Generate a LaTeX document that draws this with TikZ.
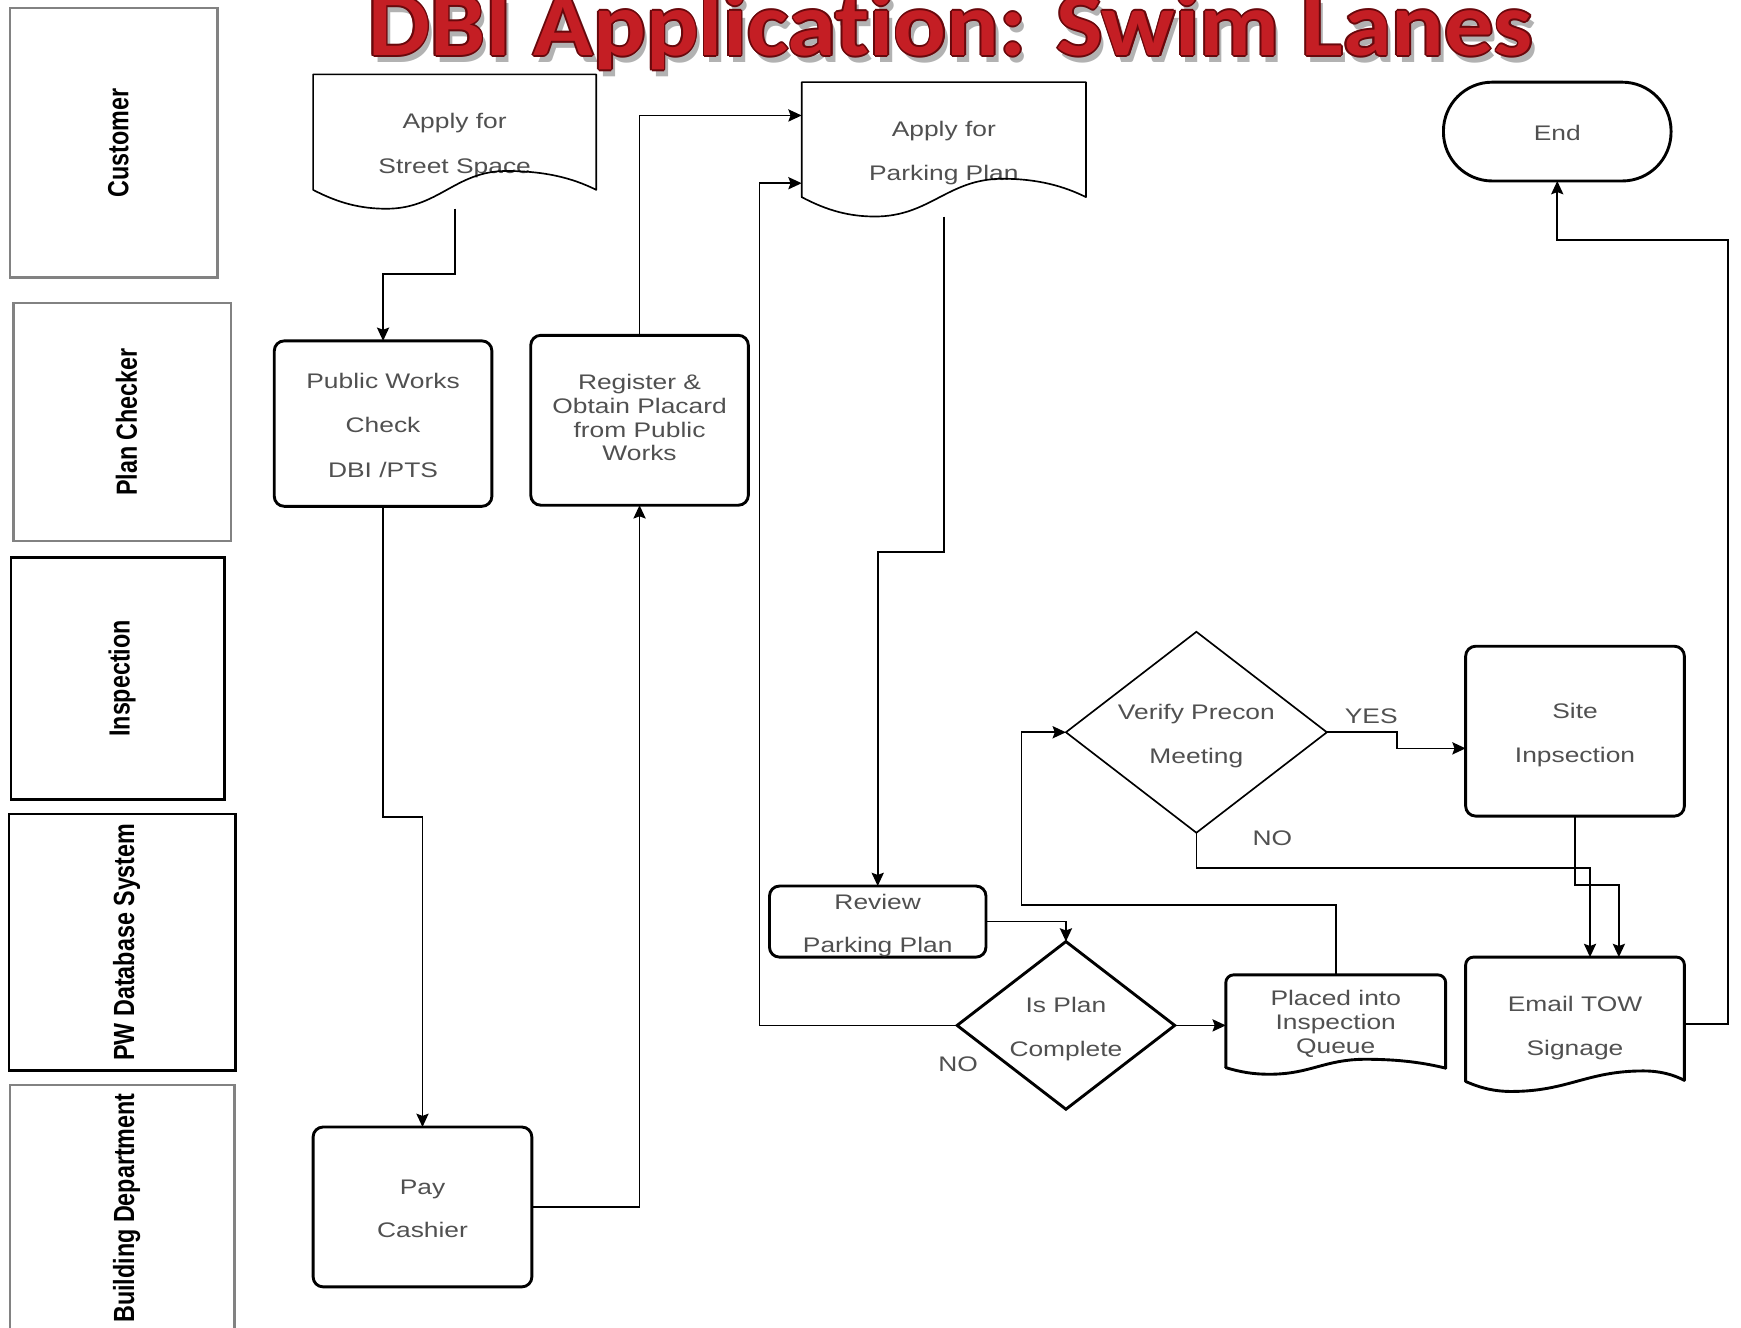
\documentclass[tikz,border=0pt]{standalone}
\usepackage{fontspec}
\usepackage{graphicx}
\setmainfont{Liberation Sans}
\newfontfamily\titlefont{Carlito}[Ligatures={NoCommon,NoRequired,NoContextual}]
\usetikzlibrary{arrows.meta,shapes.geometric,calc}
\definecolor{txt}{RGB}{80,80,80}
\definecolor{lanegray}{RGB}{130,130,130}
\definecolor{tred}{RGB}{196,30,36}
\definecolor{tdark}{RGB}{105,8,12}
\newcommand\ntext[2][40]{\makebox[0pt]{\raisebox{-4.75pt}{\scalebox{1.25}[1]{\fontsize{19}{#1}\selectfont\begin{tabular}{@{}c@{}}#2\end{tabular}}}}}
\newcommand\lanetext[1]{\hspace*{8pt}\rotatebox{90}{\scalebox{1}[1.25]{\fontsize{21}{25}\selectfont\bfseries #1}}}
\newcommand\ttl{\scalebox{1.08}[1]{\fontsize{82}{82}\selectfont\titlefont\bfseries DBI Application: Swim Lanes}}
\begin{document}
\begin{tikzpicture}[x=1pt,y=-1pt,
  nbase/.style={inner sep=0pt, outer sep=0pt, text height=0pt, text depth=0pt, text=txt},
  proc/.style={nbase, rectangle, draw, line width=2.6pt, rounded corners=9pt},
  docbox/.style={nbase, rectangle},
  thinline/.style={line width=1.5pt, line join=round},
  thickline/.style={line width=2.6pt, line join=round, line cap=round},
  lanebox/.style={rectangle, inner sep=0pt, line width=2.2pt},
  conn/.style={line width=1.5pt, -{Stealth[length=12pt,width=11pt,inset=2pt]}},
]
\useasboundingbox (0,0) rectangle (1568,1196);

% title
\node[anchor=base, text=black, opacity=0.3] (tshadow) at (860,56) {\ttl};
\foreach \dx/\dy [count=\i] in {-1.6/0, 1.6/0, 0/-1.6, 0/1.6, -1.1/-1.1, 1.1/1.1, -1.1/1.1, 1.1/-1.1}
  \node[anchor=base, text=tdark] (tout\i) at ({856+\dx},{50+\dy}) {\ttl};
\node[anchor=base, text=tred] (title) at (856,50) {\ttl};

% lanes
\node[lanebox, draw=lanegray, minimum width=187pt, minimum height=243pt] (lcust) at (102.5,128.5) {\lanetext{Customer}};
\node[lanebox, draw=lanegray, minimum width=196pt, minimum height=214pt] (lplan) at (110,380) {\lanetext{Plan Checker}};
\node[lanebox, draw=black, minimum width=192pt, minimum height=218pt] (linsp) at (106,611) {\lanetext{Inspection}};
\node[lanebox, draw=black, minimum width=204pt, minimum height=231pt] (lpw) at (110,848.5) {\lanetext{PW Database System}};
\node[lanebox, draw=lanegray, minimum width=202pt, minimum height=222pt] (lbld) at (110,1088) {\lanetext{Building Department}};

% flow nodes
\node[docbox, minimum width=255pt, minimum height=121pt] (street) at (409.5,127.5) {\ntext{Apply for\\Street Space}};
\draw[thinline] (282,171) -- (282,67) -- (537,67) -- (537,171) .. controls (515,160) and (490,154) .. (456,154) .. controls (410,154) and (395,188) .. (348,188) .. controls (325,188) and (305,183) .. (282,171) -- cycle;

\node[docbox, minimum width=256pt, minimum height=121pt] (park) at (850,134.5) {\ntext{Apply for\\Parking Plan}};
\draw[thinline] (722,177.5) -- (722,74) -- (978,74) -- (978,177.5) .. controls (958,167.6) and (934.5,161) .. (903,161) .. controls (853.5,161) and (837.5,195) .. (788,195) .. controls (765,195) and (745,189.7) .. (722,177.5) -- cycle;

\node[nbase, draw, line width=2.6pt, rounded corners=44pt, minimum width=205pt, minimum height=89pt] (end) at (1402.5,118.5) {\ntext{End}};

\node[proc, minimum width=196pt, minimum height=149pt] (pw) at (345,381.5) {\ntext{Public Works\\Check\\DBI /PTS}};
\node[proc, minimum width=196pt, minimum height=153pt] (reg) at (576,378.5) {\ntext[21.3]{Register \&\\Obtain Placard\\from Public\\Works}};
\node[proc, minimum width=195pt, minimum height=64pt] (review) at (790.5,830) {\ntext[39]{Review\\Parking Plan}};
\node[nbase, diamond, draw=black, line width=1.5pt, minimum width=235pt, minimum height=181pt] (verify) at (1077.5,659.5) {\ntext[39]{Verify Precon\\Meeting}};
\node[proc, minimum width=197pt, minimum height=153pt] (site) at (1418.5,658.5) {\ntext{Site\\Inpsection}};
\node[nbase, diamond, draw=black, line width=2.6pt, minimum width=196pt, minimum height=151pt] (isplan) at (960,923.5) {\ntext[39]{Is Plan\\Complete}};

\node[docbox, minimum width=198pt, minimum height=89.5pt] (placed) at (1203,922.75) {\ntext[21.5]{Placed into\\Inspection\\Queue}};
\draw[thickline, rounded corners=7pt] (1104,961.5) -- (1104,878) -- (1302,878) -- (1302,962);
\draw[thickline] (1302,962) .. controls (1282.6,957.2) and (1260,954) .. (1230,954) .. controls (1192.6,954) and (1180.4,967.5) .. (1143,967.5) .. controls (1129.4,967.5) and (1117.6,965.7) .. (1104,961.5);

\node[docbox, minimum width=197pt, minimum height=121pt] (email) at (1418.5,922.5) {\ntext[39]{Email TOW\\Signage}};
\draw[thickline, rounded corners=7pt] (1320,974) -- (1320,862) -- (1517,862) -- (1517,973);
\draw[thickline] (1517,973) .. controls (1507,967.9) and (1495.5,964.5) .. (1480,964.5) .. controls (1429,964.5) and (1412,983) .. (1361,983) .. controls (1346.6,983) and (1334.4,980.3) .. (1320,974);

\node[proc, minimum width=197pt, minimum height=144pt] (pay) at (380.5,1087) {\ntext[39]{Pay\\Cashier}};

% labels
\node[nbase] (no1) at (863,957) {\ntext{NO}};
\node[nbase] (yes) at (1235,643) {\ntext{YES}};
\node[nbase] (no2) at (1146,753) {\ntext{NO}};

% connectors
\draw[conn] (street.south) -- ++(0,59) -| (pw.north);
\draw[conn] (pw.south) -- ++(0,280) -| (pay.north);
\draw[conn] (pay.east) -| (reg.south);
\draw[conn] (reg.north) |- ([yshift=-30pt]park.north west);
\draw[conn] (isplan.west) -- ++(-178,0) |- ([yshift=-91pt]park.north west);
\draw[conn] (park.south) -- ++(0,302) -| (review.north);
\draw[conn] (review.east) -| (isplan.north);
\draw[conn] (isplan.east) -- (isplan.east -| placed.west);
\draw[conn] (placed.north) |- ([xshift=-40pt,yshift=-155.5pt]verify.west) |- (verify.west);
\draw[conn] (verify.east) -- ++(63,0) |- ([yshift=-15.5pt]site.west);
\draw[conn] (verify.south) -- ++(0,32) -| ([xshift=13.5pt]email.north);
\draw[conn] (site.south) -- ++(0,62) -| ([xshift=39.5pt]email.north);
\draw[conn] (email.east) -- ++(39,0) |- ([yshift=-53pt]end.south) -- (end.south);
\end{tikzpicture}
\end{document}
